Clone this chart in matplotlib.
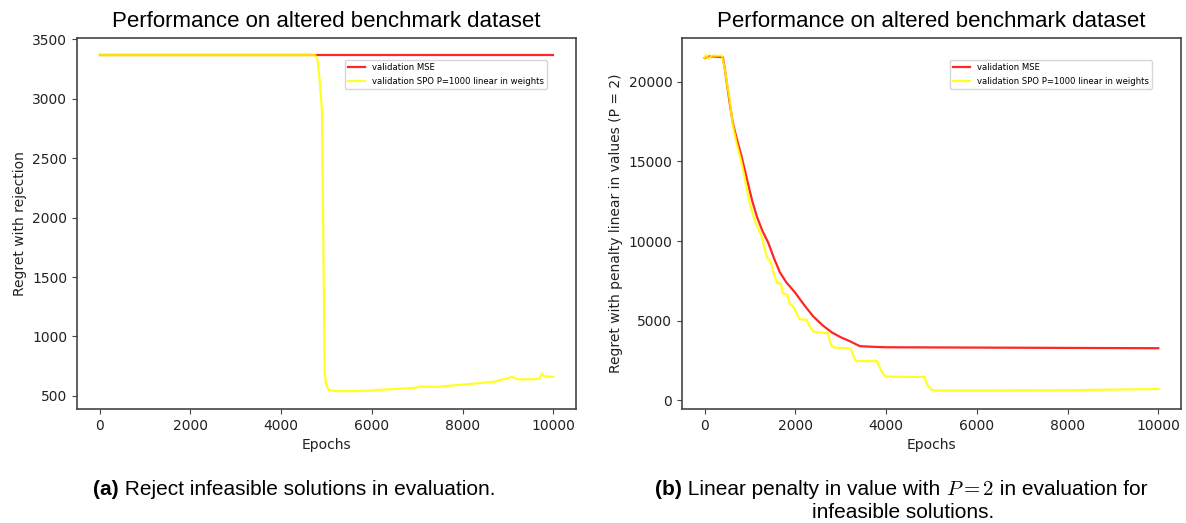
import matplotlib
matplotlib.use('Agg')
import matplotlib.pyplot as plt

# Reject-infeasible evaluation (left panel)
rej_mse_epochs = [0, 10000]
rej_mse_regret = [3366, 3366]
rej_spo_epochs = [0, 4750, 4800, 4850, 4900, 4960, 4990, 5050, 5200, 5600, 6000, 6200, 6600,
                  7000, 7050, 7400, 7700, 8000, 8300, 8700, 9100, 9200, 9500, 9700, 9750, 9800, 10000]
rej_spo_regret = [3366, 3366, 3330, 3150, 2900, 700, 600, 550, 540, 540, 545, 552, 560,
                  570, 580, 575, 585, 595, 605, 620, 660, 640, 640, 645, 690, 665, 660]

# Linear penalty evaluation (right panel)
pen_mse_epochs = [0, 100, 200, 400, 450, 550, 620, 700, 815, 950, 1050, 1150, 1270, 1400,
                  1530, 1660, 1800, 1990, 2200, 2390, 2600, 2800, 3000, 3200, 3420, 3700,
                  4020, 10000]
pen_mse_regret = [21500, 21600, 21600, 21550, 20700, 18700, 17430, 16500, 15300, 13670, 12500,
                  11540, 10650, 9900, 8900, 8020, 7400, 6770, 5950, 5270, 4700, 4260, 3950,
                  3700, 3390, 3350, 3320, 3260]
pen_spo_epochs = [0, 30, 80, 150, 380, 450, 550, 620, 700, 815, 900, 990, 1100, 1260, 1300,
                  1370, 1450, 1520, 1590, 1680, 1720, 1820, 1880, 1950, 2050, 2100, 2250, 2300,
                  2400, 2720, 2780, 2850, 3220, 3300, 3350, 3800, 3900, 3980, 4000, 4850, 4900,
                  5000, 5100, 6000, 8000, 9500, 10000]
pen_spo_regret = [21500, 21700, 21450, 21650, 21650, 20700, 18900, 17300, 16200, 14900, 13700,
                  12400, 11300, 10280, 9800, 9000, 8700, 8000, 7400, 7300, 6700, 6650, 6000,
                  5900, 5300, 5080, 5050, 4700, 4300, 4200, 3500, 3300, 3250, 2600, 2450, 2450,
                  1800, 1500, 1480, 1450, 1000, 650, 600, 600, 620, 680, 690]

title = 'Performance on altered benchmark dataset'
labels = ['validation MSE', 'validation SPO P=1000 linear in weights']

W, H = 1186, 523
fig = plt.figure(figsize=(W / 100, H / 100), dpi=100)


def make_axes(left_px):
    ax = fig.add_axes([left_px / W, 1 - 409 / H, 499 / W, 371 / H])
    for s in ax.spines.values():
        s.set_color('#444444')
        s.set_linewidth(1.2)
    ax.tick_params(labelsize=10, colors='#444444', labelcolor='#222222')
    ax.set_title(title, fontsize=16, family='Liberation Sans', pad=8)
    ax.set_xlabel('Epochs', fontsize=10, color='#222222')
    ax.set_xticks(range(0, 10001, 2000))
    ax.set_xlim(-500, 10500)
    return ax


def add_legend(ax):
    ax.legend(loc='upper right', bbox_to_anchor=(1 - 29 / 499, 1 - 22 / 371),
              borderaxespad=0, fontsize=6.1, framealpha=0.8)


ax1 = make_axes(77)
ax1.plot(rej_mse_epochs, rej_mse_regret, color='red', alpha=0.85, lw=1.6, label=labels[0])
ax1.plot(rej_spo_epochs, rej_spo_regret, color='yellow', alpha=0.85, lw=1.6, label=labels[1])
ax1.set_ylim(390, 3510)
ax1.set_yticks(range(500, 3501, 500))
ax1.set_ylabel('Regret with rejection', fontsize=10, color='#222222')
add_legend(ax1)

ax2 = make_axes(682)
ax2.plot(pen_mse_epochs, pen_mse_regret, color='red', alpha=0.85, lw=1.6, label=labels[0])
ax2.plot(pen_spo_epochs, pen_spo_regret, color='yellow', alpha=0.85, lw=1.6, label=labels[1])
ax2.set_ylim(-560, 22760)
ax2.set_yticks(range(0, 20001, 5000))
ax2.set_ylabel('Regret with penalty linear in values (P = 2)', fontsize=10, color='#222222')
add_legend(ax2)

# captions under each panel, built piece by piece so that the bold tag,
# plain text and math can use different fonts
renderer = fig.canvas.get_renderer()
cap_font = dict(family='Liberation Sans', fontsize=15)


def caption_line(pieces, xc, y):
    texts = []
    x = 0.0
    for s, extra in pieces:
        kw = dict(cap_font)
        kw.update(extra)
        t = fig.text(x, y, s, ha='left', va='baseline', **kw)
        bb = t.get_window_extent(renderer)
        texts.append(t)
        x += bb.width / W
    x0 = xc - x / 2
    pos = x0
    for t in texts:
        t.set_x(pos)
        pos += t.get_window_extent(renderer).width / W


math = dict(family='DejaVu Serif', math_fontfamily='cm', fontsize=15)
caption_line([('(a)', dict(fontweight='bold')), (' Reject infeasible solutions in evaluation.', {})],
             294 / W, 1 - 495 / H)
caption_line([('(b)', dict(fontweight='bold')), (' Linear penalty in value with ', {}),
              (r'$P = 2$', math), (' in evaluation for', {})],
             901 / W, 1 - 495 / H)
caption_line([('infeasible solutions.', {})], 903 / W, 1 - 518 / H)

fig.savefig('out.png', dpi=100)
